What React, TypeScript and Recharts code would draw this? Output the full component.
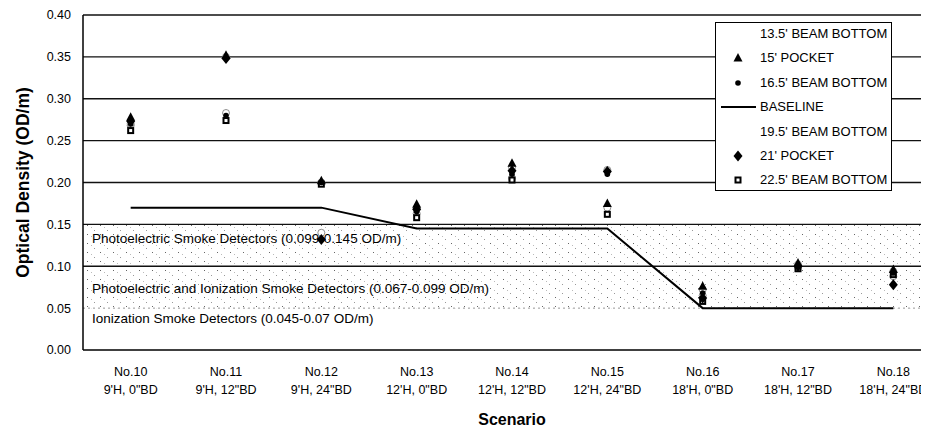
import React from 'react'
import { ComposedChart, Line, XAxis, YAxis, ReferenceLine, ReferenceArea, Legend } from 'recharts'

const scenarios = ['No.10', 'No.11', 'No.12', 'No.13', 'No.14', 'No.15', 'No.16', 'No.17', 'No.18']
const conditions = [
    "9'H, 0\"BD", "9'H, 12\"BD", "9'H, 24\"BD",
    "12'H, 0\"BD", "12'H, 12\"BD", "12'H, 24\"BD",
    "18'H, 0\"BD", "18'H, 12\"BD", "18'H, 24\"BD",
]

const beam135 = [0.268, 0.283, 0.2, 0.163, 0.218, 0.215, 0.072, 0.102, 0.094]
const pocket15 = [0.278, 0.352, 0.202, 0.174, 0.223, 0.175, 0.076, 0.104, 0.096]
const beam165 = [0.27, 0.28, 0.2, 0.165, 0.21, 0.21, 0.068, 0.1, 0.092]
const baseline = [0.17, 0.17, 0.17, 0.145, 0.145, 0.145, 0.05, 0.05, 0.05]
const beam195 = [0.27, 0.35, 0.14, 0.168, 0.205, 0.17, 0.065, 0.099, 0.088]
const pocket21 = [0.273, 0.348, 0.132, 0.168, 0.214, 0.213, 0.062, 0.1, 0.078]
const beam225 = [0.262, 0.274, 0.198, 0.158, 0.203, 0.162, 0.058, 0.097, 0.09]

const yTicks = [0, 0.05, 0.1, 0.15, 0.2, 0.25, 0.3, 0.35, 0.4]
const gridValues = [0.1, 0.15, 0.2, 0.25, 0.3, 0.35, 0.4]

const bandNotes = [
    'Photoelectric Smoke Detectors (0.099-0.145 OD/m)',
    'Photoelectric and Ionization Smoke Detectors (0.067-0.099 OD/m)',
    'Ionization Smoke Detectors (0.045-0.07 OD/m)',
]
const bandNoteLevels = [0.134, 0.074, 0.038]

const legendNames = [
    "13.5' BEAM BOTTOM",
    "15' POCKET",
    "16.5' BEAM BOTTOM",
    'BASELINE',
    "19.5' BEAM BOTTOM",
    "21' POCKET",
    "22.5' BEAM BOTTOM",
]
const legendKinds = ['blank', 'triangle', 'circle', 'line', 'blank', 'diamond', 'square']

const data = scenarios.map((s, i) => ({
    scenario: s,
    b135: beam135[i],
    p15: pocket15[i],
    b165: beam165[i],
    base: baseline[i],
    b195: beam195[i],
    p21: pocket21[i],
    b225: beam225[i],
}))

const FONT = '"Liberation Sans", Arial, sans-serif'

const Marker = ({ kind, cx, cy }: { kind: string; cx: number; cy: number }) => {
    if (kind === 'triangle')
        return <path d={`M${cx},${cy - 5}L${cx + 4.5},${cy + 3.5}L${cx - 4.5},${cy + 3.5}Z`} fill='#000' />
    if (kind === 'diamond')
        return <path d={`M${cx},${cy - 5.5}L${cx + 4.5},${cy}L${cx},${cy + 5.5}L${cx - 4.5},${cy}Z`} fill='#000' />
    if (kind === 'square')
        return (
            <g>
                <rect x={cx - 3.5} y={cy - 3.5} width={7} height={7} fill='#000' />
                <rect x={cx - 1.5} y={cy - 1.5} width={3} height={3} fill='#fff' />
            </g>
        )
    if (kind === 'circle') return <circle cx={cx} cy={cy} r={2.8} fill='#000' />
    // hollow white marker
    return <circle cx={cx} cy={cy} r={3.5} fill='#fff' stroke='#444' strokeWidth={0.6} />
}

const makeDot = (kind: string) => (props: any) => {
    const { cx, cy, index } = props
    if (cx == null || cy == null) return <g key={index} />
    return (
        <g key={index}>
            <Marker kind={kind} cx={cx} cy={cy} />
        </g>
    )
}

const ScenarioTick = (props: any) => {
    const { x, y, payload } = props
    const i = scenarios.indexOf(payload.value)
    return (
        <g fontFamily={FONT} fontSize={12.5} fill='#000'>
            <text x={x} y={y + 26} textAnchor='middle'>{payload.value}</text>
            <text x={x} y={y + 44} textAnchor='middle'>{conditions[i]}</text>
        </g>
    )
}

const LegendBox = () => (
    <div
        style={{
            width: 177,
            height: 169,
            border: '1px solid #000',
            background: '#fff',
            boxSizing: 'border-box',
            fontFamily: FONT,
            fontSize: 13,
            color: '#000',
        }}
    >
        {legendNames.map((name, i) => (
            <div key={name} style={{ position: 'relative', height: 24.4, lineHeight: '22px' }}>
                <svg width={44} height={22} style={{ position: 'absolute', left: 0, top: 0 }}>
                    {legendKinds[i] === 'line' ? (
                        <line x1={5} x2={40} y1={11} y2={11} stroke='#000' strokeWidth={2} />
                    ) : legendKinds[i] === 'blank' ? null : (
                        <Marker kind={legendKinds[i]} cx={22} cy={11} />
                    )}
                </svg>
                <span style={{ position: 'absolute', left: 44, top: 0, whiteSpace: 'nowrap' }}>{name}</span>
            </div>
        ))}
    </div>
)

const App: React.FC = () => {
    return (
        <div style={{ width: 921, height: 425, overflow: 'hidden' }}>
            <ComposedChart width={940} height={425} data={data} margin={{ top: 7, right: 7, bottom: 0, left: 0 }}>
                <defs>
                    <pattern id='stipple' width={13} height={9} patternUnits='userSpaceOnUse'>
                        <rect x={1} y={1} width={1} height={1} fill='#666' />
                        <rect x={8} y={6} width={1} height={1} fill='#999' />
                        <rect x={5} y={3} width={1} height={1} fill='#bbb' />
                    </pattern>
                </defs>
                <ReferenceArea y1={0.05} y2={0.15} fill='url(#stipple)' fillOpacity={1} stroke='none' />
                <XAxis
                    dataKey='scenario'
                    scale='band'
                    interval={0}
                    height={83}
                    tickLine={false}
                    tickSize={0}
                    tickMargin={0}
                    tick={<ScenarioTick />}
                    axisLine={{ stroke: '#000', strokeWidth: 1.5 }}
                    label={{
                        value: 'Scenario',
                        position: 'insideBottom',
                        offset: 8,
                        fill: '#000',
                        fontSize: 16,
                        fontWeight: 'bold',
                        fontFamily: FONT,
                    }}
                />
                <YAxis
                    width={75}
                    domain={[0, 0.4]}
                    ticks={yTicks}
                    interval={0}
                    tickFormatter={(v: number) => v.toFixed(2)}
                    tickLine={false}
                    tickSize={0}
                    tickMargin={12}
                    tick={{ fill: '#000', fontSize: 12.5, fontFamily: FONT }}
                    axisLine={{ stroke: '#000', strokeWidth: 1.5 }}
                    label={{
                        value: 'Optical Density (OD/m)',
                        angle: -90,
                        position: 'insideLeft',
                        offset: 15,
                        fill: '#000',
                        fontSize: 17.5,
                        fontWeight: 'bold',
                        fontFamily: FONT,
                        style: { textAnchor: 'middle' },
                    }}
                />
                {gridValues.map((v) => (
                    <ReferenceLine key={v} y={v} stroke='#111' strokeWidth={1.4} />
                ))}
                <ReferenceLine y={0.05} stroke='#999' strokeWidth={1} strokeDasharray='2 3' />
                {bandNotes.map((t, i) => (
                    <ReferenceLine
                        key={t}
                        y={bandNoteLevels[i]}
                        stroke='none'
                        label={{ value: t, position: 'insideLeft', offset: 9, fill: '#000', fontSize: 13.5, fontFamily: FONT }}
                    />
                ))}
                <Line dataKey='base' stroke='#000' strokeWidth={2} dot={false} activeDot={false} isAnimationActive={false} />
                <Line dataKey='b135' stroke='none' dot={makeDot('blank')} activeDot={false} isAnimationActive={false} />
                <Line dataKey='b195' stroke='none' dot={makeDot('blank')} activeDot={false} isAnimationActive={false} />
                <Line dataKey='b225' stroke='none' dot={makeDot('square')} activeDot={false} isAnimationActive={false} />
                <Line dataKey='b165' stroke='none' dot={makeDot('circle')} activeDot={false} isAnimationActive={false} />
                <Line dataKey='p21' stroke='none' dot={makeDot('diamond')} activeDot={false} isAnimationActive={false} />
                <Line dataKey='p15' stroke='none' dot={makeDot('triangle')} activeDot={false} isAnimationActive={false} />
                <Legend
                    layout='vertical'
                    align='center'
                    verticalAlign='middle'
                    content={<LegendBox />}
                    wrapperStyle={{ left: 707, top: 14, width: 177, height: 169 }}
                />
            </ComposedChart>
        </div>
    )
}

export default App
